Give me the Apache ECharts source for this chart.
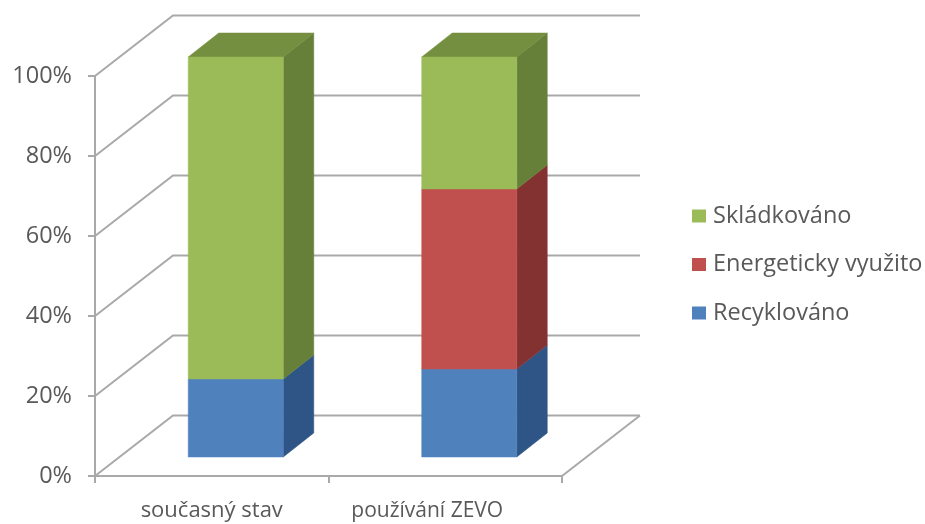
<!DOCTYPE html>
<html>
<head>
<meta charset="utf-8">
<style>html,body{margin:0;padding:0;background:#fff}#chart{width:925px;height:524px}</style>
<script src="https://cdn.jsdelivr.net/npm/echarts@6/dist/echarts.min.js"></script>
</head>
<body>
<div id="chart"></div>
<script>
const categories = ['současný stav', 'používání ZEVO'];
const recyklovano = [19.5, 22];
const energeticky = [0, 45];
const skladkovano = [80.5, 33];
const percentTicks = [0, 20, 40, 60, 80, 100];

// Fake-3D projection of the plot: pixel shift of the back wall, of the bar front and of the bar depth
const WALL = [78, -60.5];
const BAR_FRONT = [24, -19];
const BAR_DEPTH = [30.5, -24];
const BAR_SHARE = 0.407;
const GRID_COLOR = '#a9a9a9';
const TEXT_COLOR = '#595959';
const FONT = '"Open Sans", Lato, sans-serif';

const poly = (points, fill, z2) => ({
  type: 'polygon', z2: z2,
  shape: { points: points },
  style: { fill: fill, stroke: fill, lineWidth: 0.5 }
});
const wire = (points) => ({
  type: 'polyline',
  shape: { points: points },
  style: { fill: null, stroke: GRID_COLOR, lineWidth: 2 }
});

// Back wall, left wall and floor outline
function renderWalls(params, api) {
  const pct = api.value(0);
  const [x0, y] = api.coord([0, pct]);
  const xLeft = x0 - api.size([1, 0])[0] / 2;
  const bx = xLeft + WALL[0];
  const by = y + WALL[1];
  const xRight = bx + api.size([1, 0])[0] * categories.length;
  const children = [wire([[xLeft, y], [bx, by], [xRight, by]])];
  if (pct === 0) {
    children.push(wire([[xRight, by], [xRight - WALL[0], y]]));
  }
  return { type: 'group', children: children };
}

// One stacked block: front face, receding side and, on the topmost block, the lid
function makeBlock(front, side, lid) {
  return function (params, api) {
    const from = api.value(1);
    const to = api.value(2);
    if (to <= from) return null;
    const base = api.coord([api.value(0), from]);
    const head = api.coord([api.value(0), to]);
    const half = api.size([1, 0])[0] * BAR_SHARE / 2;
    const l = base[0] + BAR_FRONT[0] - half;
    const r = base[0] + BAR_FRONT[0] + half;
    const yb = base[1] + BAR_FRONT[1];
    const yt = head[1] + BAR_FRONT[1];
    const dx = BAR_DEPTH[0];
    const dy = BAR_DEPTH[1];
    const children = [
      poly([[r, yb], [r + dx, yb + dy], [r + dx, yt + dy], [r, yt]], side, 1),
      poly([[l, yb], [r, yb], [r, yt], [l, yt]], front, 2)
    ];
    if (to >= 100) {
      children.push(poly([[l, yt], [l + dx, yt + dy], [r + dx, yt + dy], [r, yt]], lid, 1));
    }
    return { type: 'group', children: children };
  };
}

// Cumulative [category, from, to] rows for one layer of the stack
function stackRows(layers, index) {
  return categories.map((_, c) => {
    let from = 0;
    for (let i = 0; i < index; i++) from += layers[i][c];
    return [c, from, from + layers[index][c]];
  });
}
const layers = [recyklovano, energeticky, skladkovano];

function blockSeries(name, index, front, side, lid) {
  return {
    type: 'custom',
    name: name,
    z: 5 + index,
    coordinateSystem: 'cartesian2d',
    encode: { x: 0, y: [1, 2] },
    itemStyle: { color: front },
    renderItem: makeBlock(front, side, lid),
    data: stackRows(layers, index)
  };
}

const chart = echarts.init(document.getElementById('chart'), null, { renderer: 'canvas' });
chart.setOption({
  animation: false,
  backgroundColor: '#ffffff',
  grid: { left: 95, right: 363, top: 76, bottom: 48 },
  legend: {
    orient: 'vertical',
    left: 692,
    top: 204,
    padding: 0,
    icon: 'rect',
    itemWidth: 14,
    itemHeight: 13,
    itemGap: 24.5,
    textStyle: { color: TEXT_COLOR, fontFamily: FONT, fontSize: 23.5, padding: [0, 0, 0, 2] },
    data: ['Skládkováno', 'Energeticky využito', 'Recyklováno']
  },
  xAxis: {
    type: 'category',
    data: [
      { value: categories[0], textStyle: { fontSize: 22 } },
      { value: categories[1], textStyle: { fontSize: 21, padding: [1, 36, 0, 0] } }
    ],
    axisLine: { lineStyle: { color: GRID_COLOR, width: 2 } },
    axisTick: { show: true, length: 7, lineStyle: { color: GRID_COLOR, width: 2 } },
    axisLabel: { color: TEXT_COLOR, fontFamily: FONT, margin: 24, interval: 0 }
  },
  yAxis: {
    type: 'value',
    min: 0,
    max: 100,
    interval: 20,
    splitLine: { show: false },
    axisLine: { show: true, lineStyle: { color: GRID_COLOR, width: 2 } },
    axisTick: { show: true, length: 7, lineStyle: { color: GRID_COLOR, width: 2 } },
    axisLabel: { color: TEXT_COLOR, fontFamily: FONT, fontSize: 23.5, margin: 23, formatter: '{value}%' }
  },
  series: [
    {
      type: 'custom',
      z: 1,
      silent: true,
      coordinateSystem: 'cartesian2d',
      encode: { x: 1, y: 0 },
      renderItem: renderWalls,
      data: percentTicks.map((t) => [t, 0])
    },
    blockSeries('Recyklováno', 0, '#4f81bd', '#2f5587', '#3a649a'),
    blockSeries('Energeticky využito', 1, '#c0504d', '#843231', '#9c3f3c'),
    blockSeries('Skládkováno', 2, '#9bbb59', '#66803a', '#748f3f')
  ]
});
</script>
</body>
</html>
